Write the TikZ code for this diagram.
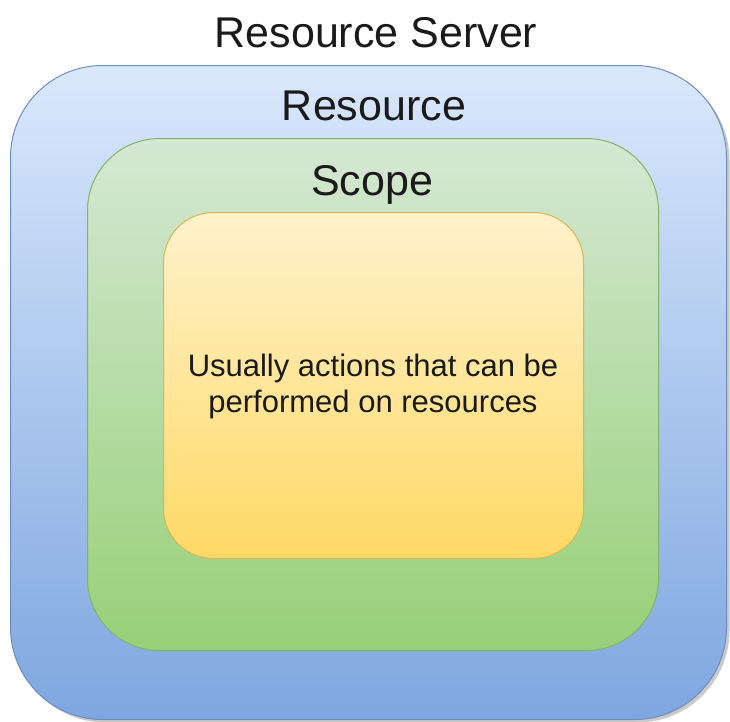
\documentclass[tikz,border=0pt]{standalone}
\usepackage{fontspec}
\setmainfont{Liberation Sans}
\usetikzlibrary{shadows}
\definecolor{blueTop}{HTML}{DAE8FC}
\definecolor{blueBot}{HTML}{7EA6E0}
\definecolor{blueLine}{HTML}{6C8EBF}
\definecolor{greenTop}{HTML}{D5E8D4}
\definecolor{greenBot}{HTML}{97D077}
\definecolor{greenLine}{HTML}{82B366}
\definecolor{yelTop}{HTML}{FFF2CC}
\definecolor{yelBot}{HTML}{FFD966}
\definecolor{yelLine}{HTML}{D6B656}
\definecolor{txt}{HTML}{1A1A1A}
\tikzset{
  box/.style={rectangle, line width=1pt, inner sep=0pt, anchor=north west},
  title/.style={font=\fontsize{43}{48}\selectfont, text=txt, inner sep=0pt},
  body/.style={font=\fontsize{31}{36}\selectfont, text=txt, align=center, inner sep=0pt},
}
\begin{document}
\begin{tikzpicture}[x=1pt,y=-1pt]
\useasboundingbox (0,0) rectangle (730,721);
\node[box, draw=blueLine, top color=blueTop, bottom color=blueBot, rounded corners=92pt,
  minimum width=716pt, minimum height=654pt,
  drop shadow={shadow xshift=3pt, shadow yshift=-3pt, opacity=0.35, fill=black!60}] (server) at (10,65) {};
\node[box, draw=greenLine, top color=greenTop, bottom color=greenBot, rounded corners=72pt,
  minimum width=571pt, minimum height=512pt] (resource) at (87,138) {};
\node[box, draw=yelLine, top color=yelTop, bottom color=yelBot, rounded corners=50pt,
  minimum width=420pt, minimum height=346pt] (scope) at (163,212) {};
\node[title] (serverlabel) at (376,33) {Resource Server};
\node[title] (resourcelabel) at (374,106) {Resource};
\node[title] (scopelabel) at (372,185) {Scope};
\node[body] (scopetext) at (373,386) {Usually actions that can be\\performed on resources};
\end{tikzpicture}
\end{document}
